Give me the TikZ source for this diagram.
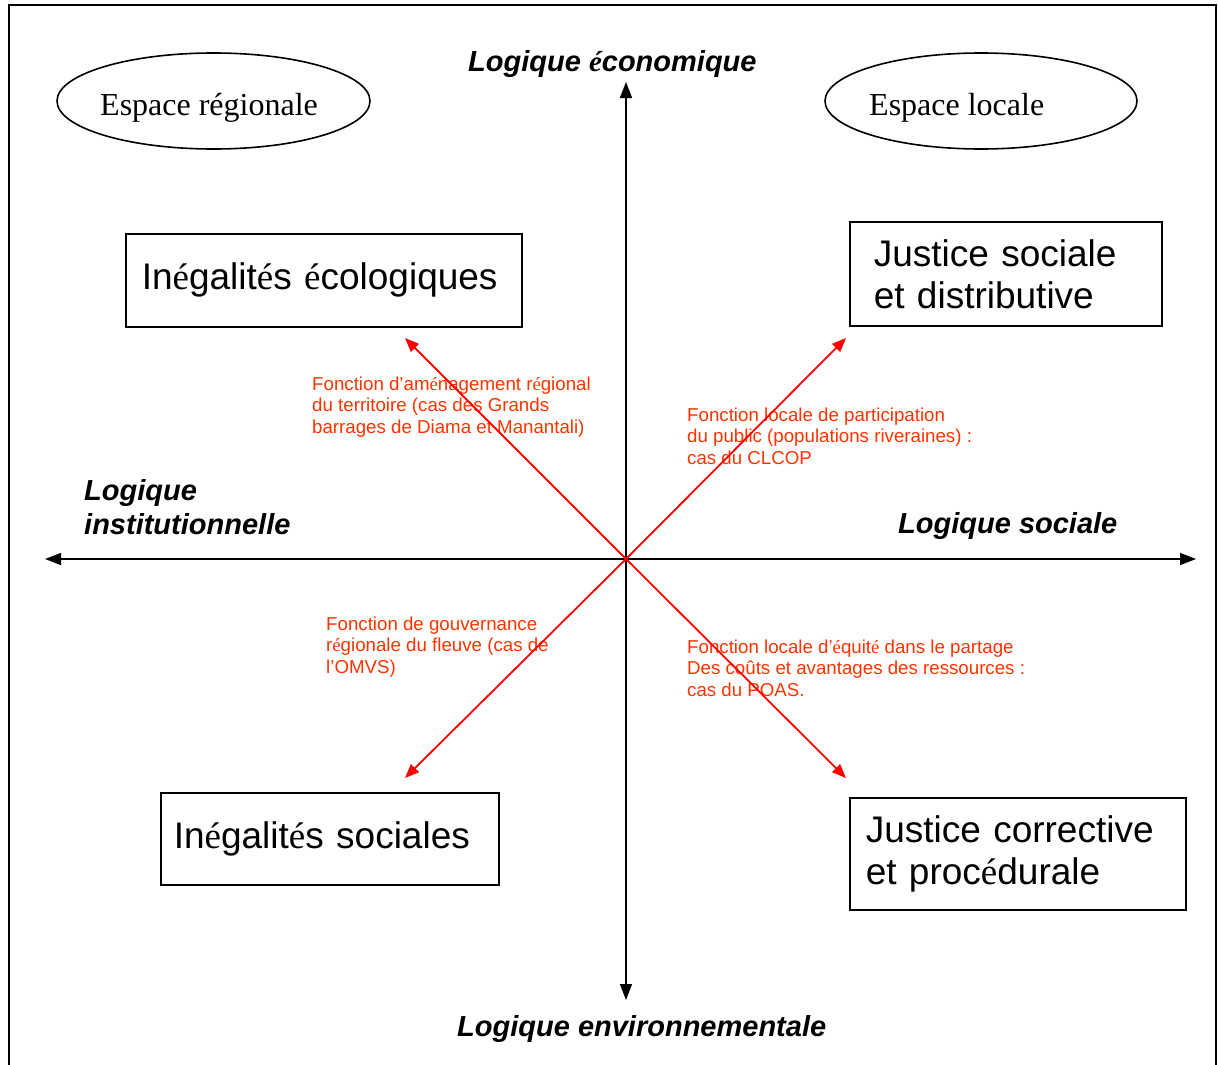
\documentclass[tikz,border=0pt]{standalone}
\usepackage{fontspec}
\setmainfont{Liberation Sans}
\newfontfamily\timesfont{Liberation Serif}
\usetikzlibrary{arrows.meta,shapes.geometric}
\newcommand\seacc{{\timesfont é}}
\newcommand\seitacc{{\timesfont\itshape é}}
\definecolor{fnred}{RGB}{255,51,0}
\begin{document}
\begin{tikzpicture}[x=1pt,y=-1pt,
  axislbl/.style={font=\fontsize{29}{34}\selectfont\bfseries\itshape, inner sep=0, align=left},
  boxnode/.style={draw, line width=1.6pt, anchor=north west, font=\fontsize{37}{42}\selectfont, align=left, inner ysep=0pt},
  fntext/.style={text=fnred, font=\fontsize{18.7}{21.5}\selectfont, align=left, inner sep=0pt, anchor=north west},
  espell/.style={draw, ellipse, line width=1.6pt, inner sep=0pt},
  esptext/.style={font=\fontsize{32}{38}\selectfont\timesfont, inner sep=0pt, anchor=base west},
  axisarrow/.style={{Triangle[length=16pt,width=12pt]}-{Triangle[length=16pt,width=12pt]}, line width=1.5pt},
  fnarrow/.style={-{Triangle[length=14pt,width=11pt]}, red, line width=1.8pt}]
\useasboundingbox (0,0) rectangle (1218,1065);
% frame (open at the bottom)
\draw[line width=1.8pt] (9,1065) -- (9,5) -- (1216,5) -- (1216,1065);

% ellipses
\node[espell, minimum width=313pt, minimum height=96pt] (ereg) at (213.5,101) {};
\node[esptext] (treg) at (100,115) {Espace régionale};
\node[espell, minimum width=312pt, minimum height=96pt] (eloc) at (981,101) {};
\node[esptext] (tloc) at (869,115) {Espace locale};

% boxes
\node[boxnode, inner xsep=16pt, text width=364pt, minimum height=93pt] (ineco) at (125,233)
  {In\seacc galit\seacc s \seacc cologiques};
\node[boxnode, inner xsep=24pt, text width=264pt, minimum height=104pt] (jsd) at (849,221)
  {Justice sociale\\et distributive};
\node[boxnode, inner xsep=13pt, text width=312pt, minimum height=92pt] (insoc) at (160,792)
  {In\seacc galit\seacc s sociales};
\node[boxnode, inner xsep=16pt, text width=304pt, minimum height=112pt] (jcp) at (849,797)
  {Justice corrective\\et proc\seacc durale};

% axis labels
\node[axislbl, anchor=base west] (leco) at (468,71) {Logique \seitacc conomique};
\node[axislbl, anchor=base west] (lenv) at (457,1036) {Logique environnementale};
\node[axislbl, anchor=base west] (lsoc) at (898,533) {Logique sociale};
\node[axislbl, anchor=north west] (linst) at (84,479) {Logique\\institutionnelle};

% function texts
\node[fntext] (ftl) at (312,376.5) {Fonction d’am\seacc nagement r\seacc gional\\du territoire (cas des Grands\\barrages de Diama et Manantali)};
\node[fntext] (ftr) at (687,407.5) {Fonction locale de participation\\du public (populations riveraines) :\\cas du CLCOP};
\node[fntext] (fbl) at (326,616.5) {Fonction de gouvernance\\r\seacc gionale du fleuve (cas de\\l’OMVS)};
\node[fntext] (fbr) at (687,639.5) {Fonction locale d’\seacc quit\seacc{} dans le partage\\Des coûts et avantages des ressources :\\cas du POAS.};

% axes
\coordinate (O) at (626,559);
\coordinate (N) at (626,82);
\coordinate (S) at (626,1000);
\coordinate (W) at (45,559);
\coordinate (E) at (1196,559);
\draw[axisarrow] (S) -- (N);
\draw[axisarrow] (W) -- (E);

% red arrows
\coordinate (tl) at (405,338);
\coordinate (tr) at (846,338);
\coordinate (bl) at (405,778);
\coordinate (br) at (846,778);
\draw[fnarrow] (O) -- (tl);
\draw[fnarrow] (O) -- (tr);
\draw[fnarrow] (O) -- (bl);
\draw[fnarrow] (O) -- (br);
\end{tikzpicture}
\end{document}
